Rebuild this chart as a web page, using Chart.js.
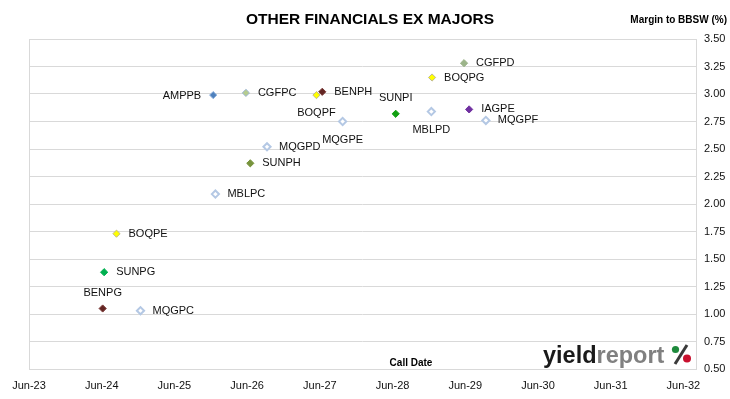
<!DOCTYPE html>
<html lang="en">

<head>
  <meta charset="UTF-8">
  <title>Other Financials ex Majors</title>
  <script src="https://cdn.jsdelivr.net/npm/chart.js@4.4.1/dist/chart.umd.min.js"></script>
  <style>
    body { margin: 0; background: #fff; }
    canvas { display: block; }
  </style>
</head>

<body>
  <canvas id="chart" width="730" height="399"></canvas>
</body>

<script>
  // securities, call date (decimal year) and margin to BBSW (%)
  const names = ['AMPPB', 'CGFPC', 'BOQPF', 'BENPH', 'MQGPE', 'MQGPD', 'SUNPH', 'CGFPD', 'BOQPG',
    'SUNPI', 'MBLPD', 'IAGPE', 'MQGPF', 'MBLPC', 'BOQPE', 'SUNPG', 'BENPG', 'MQGPC'];
  const callDates = [2025.95, 2026.40, 2027.37, 2027.45, 2027.73, 2026.69, 2026.46, 2029.40, 2028.96,
    2028.46, 2028.95, 2029.47, 2029.70, 2025.98, 2024.62, 2024.45, 2024.43, 2024.95];
  const margins = [2.99, 3.01, 2.99, 3.02, 2.75, 2.52, 2.37, 3.28, 3.15,
    2.82, 2.84, 2.86, 2.76, 2.09, 1.73, 1.38, 1.05, 1.03];

  const xTickLabels = ['Jun-23', 'Jun-24', 'Jun-25', 'Jun-26', 'Jun-27', 'Jun-28', 'Jun-29', 'Jun-30', 'Jun-31', 'Jun-32'];
  const yTickLabels = ['0.50', '0.75', '1.00', '1.25', '1.50', '1.75', '2.00', '2.25', '2.50', '2.75', '3.00', '3.25', '3.50'];

  const FONT = '"Liberation Sans", Arial, sans-serif';
  const JUNE = 5 / 12;
  const firstYear = 2023;

  // marker style per issuer
  const styleOf = {
    AMP: ['#4F81BD', '#8EB0DC', 1],
    CGF: ['#B5CC8E', '#9DB5D6', 1],
    BOQ: ['#FFFF00', '#BFB98A', 1],
    BEN: ['#632523', '#7A3A37', 1],
    SUN: ['#00B050', '#00B050', 1],
    IAG: ['#7030A0', '#7030A0', 1],
    MQG: ['#FFFFFF', '#B4C8E4', 2],
    MBL: ['#FFFFFF', '#B4C8E4', 2]
  };
  const special = { SUNPH: '#77933C', SUNPI: '#11A011', CGFPD: '#9CB48A' };
  const fills = names.map(n => special[n] || styleOf[n.slice(0, 3)][0]);
  const strokes = names.map(n => special[n] || styleOf[n.slice(0, 3)][1]);
  const widths = names.map(n => styleOf[n.slice(0, 3)][2]);

  // where each label sits relative to its marker
  const labelPos = { AMPPB: 'left', BOQPF: 'below', MQGPE: 'below', MBLPD: 'below', SUNPI: 'above', BENPG: 'above' };

  const pointLabels = {
    id: 'pointLabels',
    afterDatasetsDraw(chart) {
      const ctx = chart.ctx;
      const meta = chart.getDatasetMeta(0);
      ctx.save();
      ctx.font = '11px ' + FONT;
      ctx.fillStyle = '#111';
      ctx.textBaseline = 'middle';
      meta.data.forEach((pt, i) => {
        const pos = labelPos[names[i]] || 'right';
        if (pos === 'right') {
          ctx.textAlign = 'left';
          ctx.fillText(names[i], pt.x + 12, pt.y);
        } else if (pos === 'left') {
          ctx.textAlign = 'right';
          ctx.fillText(names[i], pt.x - 12, pt.y + 1);
        } else if (pos === 'below') {
          ctx.textAlign = 'center';
          ctx.fillText(names[i], pt.x, pt.y + 18);
        } else {
          ctx.textAlign = 'center';
          ctx.fillText(names[i], pt.x, pt.y - 16);
        }
      });
      ctx.restore();
    }
  };

  const frame = {
    id: 'frame',
    beforeDatasetsDraw(chart) {
      const { ctx, chartArea: a } = chart;
      ctx.save();
      ctx.strokeStyle = '#D9D9D9';
      ctx.lineWidth = 1;
      ctx.strokeRect(Math.round(a.left) + 0.5, Math.round(a.top) + 0.5,
        Math.round(a.right - a.left), Math.round(a.bottom - a.top));
      ctx.restore();
    },
    afterDraw(chart) {
      const ctx = chart.ctx;
      ctx.save();
      ctx.fillStyle = '#000';
      ctx.textBaseline = 'alphabetic';
      ctx.textAlign = 'center';
      ctx.font = 'bold 15.5px ' + FONT;
      ctx.fillText('OTHER FINANCIALS EX MAJORS', 370, 24);
      ctx.textAlign = 'right';
      ctx.font = 'bold 10px ' + FONT;
      ctx.fillText('Margin to BBSW (%)', 727, 23);
      ctx.textAlign = 'center';
      ctx.fillText('Call Date', 411, 366);

      // yieldreport logo
      ctx.textAlign = 'left';
      ctx.font = 'bold 23.5px ' + FONT;
      ctx.fillStyle = '#1A1A1A';
      ctx.fillText('yield', 543, 363);
      const w = ctx.measureText('yield').width;
      ctx.fillStyle = '#808080';
      ctx.fillText('report', 543 + w, 363);
      ctx.strokeStyle = '#3A3A3A';
      ctx.lineWidth = 3;
      ctx.beginPath();
      ctx.moveTo(687, 345);
      ctx.lineTo(675, 364);
      ctx.stroke();
      ctx.fillStyle = '#1E8A3C';
      ctx.beginPath();
      ctx.arc(675.5, 349.5, 3.6, 0, Math.PI * 2);
      ctx.fill();
      ctx.fillStyle = '#C8102E';
      ctx.beginPath();
      ctx.arc(687, 358.5, 4, 0, Math.PI * 2);
      ctx.fill();
      ctx.restore();
    }
  };

  const canvas = document.getElementById('chart');

  new Chart(canvas.getContext('2d'), {
    type: 'scatter',
    data: {
      datasets: [{
        data: callDates.map((d, i) => ({ x: d, y: margins[i] })),
        pointStyle: 'rectRot',
        pointRadius: 3.6,
        pointBackgroundColor: fills,
        pointBorderColor: strokes,
        pointBorderWidth: widths
      }]
    },
    options: {
      responsive: false,
      animation: false,
      events: [],
      layout: { padding: { top: 39, left: 29, right: 4, bottom: 7 } },
      plugins: {
        legend: { display: false },
        tooltip: { enabled: false }
      },
      scales: {
        x: {
          type: 'linear',
          min: firstYear + JUNE,
          max: 2032.59,
          afterBuildTicks: axis => {
            axis.ticks = xTickLabels.map((_, i) => ({ value: firstYear + JUNE + i }));
          },
          afterFit: axis => { axis.height = 23; },
          grid: { display: false, drawTicks: false },
          border: { display: false },
          ticks: {
            autoSkip: false,
            maxRotation: 0,
            padding: 10,
            color: '#111',
            font: { family: FONT, size: 11 },
            callback: (v, i) => xTickLabels[i]
          }
        },
        y: {
          position: 'right',
          min: 0.5,
          max: 3.5,
          afterFit: axis => { axis.width = 30; },
          grid: { color: '#D9D9D9', drawTicks: false },
          border: { display: false },
          ticks: {
            stepSize: 0.25,
            padding: 8,
            color: '#111',
            font: { family: FONT, size: 11 },
            callback: (v, i) => yTickLabels[i]
          }
        }
      }
    },
    plugins: [frame, pointLabels]
  });
</script>

</html>
